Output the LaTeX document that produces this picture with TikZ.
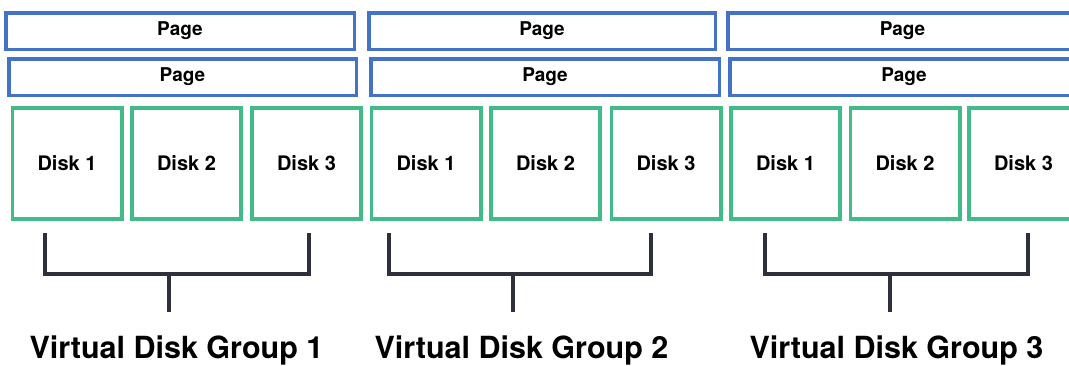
\documentclass[tikz,border=0pt]{standalone}
\usepackage{fontspec}
\setmainfont{TeX Gyre Heros}
\definecolor{pageblue}{RGB}{68,114,196}
\definecolor{diskgreen}{RGB}{67,187,137}
\definecolor{bracketdark}{RGB}{46,48,60}
\tikzset{
  pagebox/.style={draw=pageblue, line width=3.5pt, rectangle, inner sep=0pt,
    minimum height=36.5pt, font=\fontsize{19}{21}\selectfont\bfseries, text=black},
  diskbox/.style={draw=diskgreen, line width=3.7pt, rectangle, inner sep=0pt,
    minimum width=109.3pt, minimum height=111.3pt, font=\fontsize{20}{22}\selectfont\bfseries, text=black},
  bracket/.style={draw=bracketdark, line width=4pt},
  grouplabel/.style={anchor=base, inner sep=0pt, font=\fontsize{30.5}{34}\selectfont\bfseries, text=black}
}
\begin{document}
\begin{tikzpicture}[x=1pt,y=-1pt]
\useasboundingbox (0,0) rectangle (1069,365);
\clip (0,0) rectangle (1069,365);
% pages row 1
\node[pagebox, minimum width=348.5pt] (p11) at (180,31) {Page};
\node[pagebox, minimum width=346.5pt] (p12) at (542,31) {Page};
\node[pagebox, minimum width=349.5pt] (p13) at (902.5,31) {Page};
% pages row 2
\node[pagebox, minimum width=347.5pt] (p21) at (182.5,77) {Page};
\node[pagebox, minimum width=348.5pt] (p22) at (545,77) {Page};
\node[pagebox, minimum width=348.5pt] (p23) at (904,77) {Page};
% disks
\node[diskbox] (d11) at (67,163.5) {Disk 1};
\node[diskbox] (d12) at (186.5,163.5) {Disk 2};
\node[diskbox] (d13) at (306.5,163.5) {Disk 3};
\node[diskbox] (d21) at (426,163.5) {Disk 1};
\node[diskbox] (d22) at (545.5,163.5) {Disk 2};
\node[diskbox] (d23) at (666,163.5) {Disk 3};
\node[diskbox] (d31) at (785.5,163.5) {Disk 1};
\node[diskbox] (d32) at (905,163.5) {Disk 2};
\node[diskbox] (d33) at (1023.5,163.5) {Disk 3};
% group labels
\node[grouplabel] (g1) at (176.5,358) {Virtual Disk Group 1};
\node[grouplabel] (g2) at (521.5,358) {Virtual Disk Group 2};
\node[grouplabel] (g3) at (896.5,358) {Virtual Disk Group 3};
% bracket coordinates
\coordinate (b1l) at (45,233);  \coordinate (b1r) at (309,233);  \coordinate (b1s) at (169,312);
\coordinate (b2l) at (389,233); \coordinate (b2r) at (651,233);  \coordinate (b2s) at (513,312);
\coordinate (b3l) at (765,233); \coordinate (b3r) at (1028,233); \coordinate (b3s) at (890,312);
\foreach \i in {1,2,3}{
  \draw[bracket] (b\i l) -- (b\i l |- 0,274) -- (b\i r |- 0,274) -- (b\i r);
  \draw[bracket] (b\i s |- 0,274) -- (b\i s);
}
\end{tikzpicture}
\end{document}
